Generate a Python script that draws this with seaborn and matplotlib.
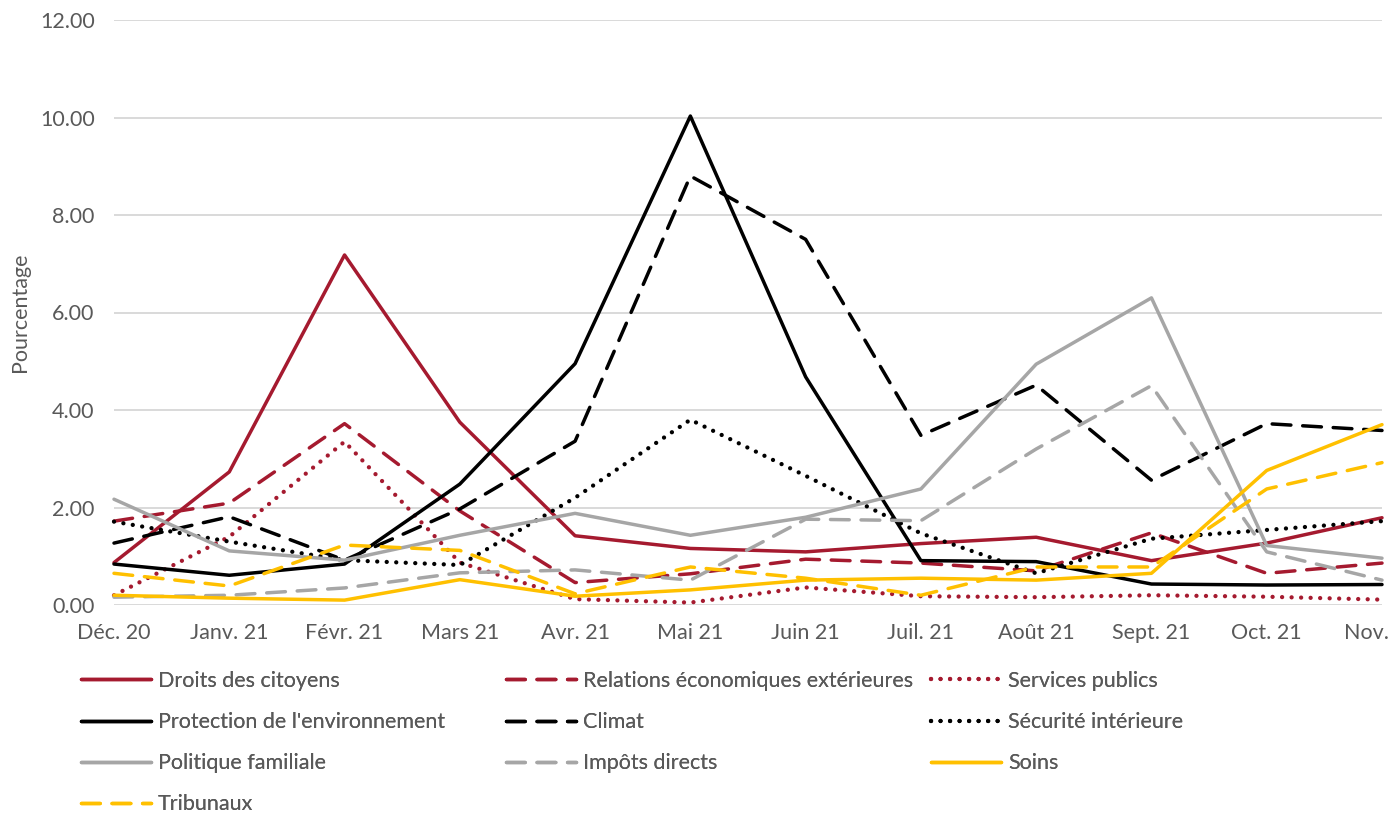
import matplotlib
matplotlib.use("Agg")
import matplotlib.pyplot as plt
import matplotlib.ticker as mticker
import seaborn as sns
import pandas as pd

months = ["Déc. 20", "Janv. 21", "Févr. 21", "Mars 21", "Avr. 21", "Mai 21",
          "Juin 21", "Juil. 21", "Août 21", "Sept. 21", "Oct. 21", "Nov. 21"]

droits_citoyens = [0.87, 2.73, 7.18, 3.75, 1.42, 1.16, 1.09, 1.26, 1.39, 0.91, 1.27, 1.79]
relations_eco = [1.72, 2.09, 3.72, 1.93, 0.46, 0.64, 0.94, 0.86, 0.70, 1.48, 0.65, 0.86]
services_publics = [0.20, 1.40, 3.35, 0.87, 0.12, 0.05, 0.36, 0.18, 0.16, 0.20, 0.17, 0.11]
protection_env = [0.84, 0.61, 0.84, 2.48, 4.95, 10.03, 4.68, 0.91, 0.89, 0.43, 0.41, 0.42]
climat = [1.27, 1.81, 0.92, 1.97, 3.36, 8.80, 7.50, 3.48, 4.51, 2.56, 3.72, 3.58]
securite_int = [1.71, 1.30, 0.92, 0.82, 2.20, 3.80, 2.65, 1.47, 0.65, 1.36, 1.54, 1.72]
politique_fam = [2.17, 1.11, 0.92, 1.43, 1.88, 1.43, 1.80, 2.38, 4.94, 6.30, 1.22, 0.96]
impots_directs = [0.16, 0.20, 0.35, 0.66, 0.72, 0.51, 1.76, 1.73, 3.20, 4.50, 1.09, 0.51]
soins = [0.20, 0.14, 0.10, 0.52, 0.18, 0.31, 0.51, 0.55, 0.51, 0.65, 2.76, 3.70]
tribunaux = [0.65, 0.39, 1.23, 1.12, 0.23, 0.78, 0.55, 0.20, 0.78, 0.78, 2.38, 2.92]

labels = ["Droits des citoyens", "Relations économiques extérieures", "Services publics",
          "Protection de l'environnement", "Climat", "Sécurité intérieure",
          "Politique familiale", "Impôts directs", "Soins", "Tribunaux"]
series = [droits_citoyens, relations_eco, services_publics, protection_env, climat,
          securite_int, politique_fam, impots_directs, soins, tribunaux]

RED, BLACK, GREY, GOLD = "#a51a2f", "#000000", "#a6a6a6", "#ffc000"
colors = [RED, RED, RED, BLACK, BLACK, BLACK, GREY, GREY, GOLD, GOLD]
DASH = (0, (5.4, 3.4))
DOT = (0, (0.01, 2.2))
styles = ["-", DASH, DOT, "-", DASH, DOT, "-", DASH, "-", DASH]
widths = [2.5, 2.5, 3.1, 2.5, 2.5, 3.1, 2.5, 2.5, 2.5, 2.5]

TEXT = "#595959"
FS = 15.5
sns.set_theme(style="white")
plt.rcParams["font.family"] = ["Lato", "DejaVu Sans"]
plt.rcParams["text.color"] = TEXT

fig = plt.figure(figsize=(13.94, 8.14), dpi=100)
ax = fig.add_axes([114 / 1394, 1 - 605 / 814, 1268 / 1394, 585 / 814])

handles = []
for lab, vals, col, ls, lw in zip(labels, series, colors, styles, widths):
    df = pd.DataFrame({"mois": months, "valeur": vals})
    sns.lineplot(data=df, x="mois", y="valeur", ax=ax, color=col, linestyle=ls,
                 linewidth=lw, dash_capstyle="round", label=lab, legend=False,
                 sort=False, clip_on=False)
    handles.append(ax.get_lines()[-1])

ax.set_xlim(0, 11)
ax.set_ylim(0, 12)
ax.set_yticks(range(0, 13, 2))
ax.yaxis.set_major_formatter(mticker.FormatStrFormatter("%.2f"))
ax.yaxis.grid(True, color="#d9d9d9", linewidth=1.4)
ax.xaxis.grid(False)
ax.set_axisbelow(True)
for s in ax.spines.values():
    s.set_visible(False)
ax.tick_params(axis="both", length=0, labelsize=FS, labelcolor=TEXT)
ax.tick_params(axis="y", pad=14)
ax.tick_params(axis="x", pad=13)
ax.set_xlabel("")
ax.set_ylabel("Pourcentage", fontsize=FS, color=TEXT)
ax.yaxis.set_label_coords(-84 / 1268, 0.5)

# three-column legend below the plot, filled row by row
col_x = [81, 506, 931]
for c in range(3):
    idx = list(range(c, len(labels), 3))
    leg = fig.legend([handles[i] for i in idx], [labels[i] for i in idx],
                     loc="upper left", bbox_to_anchor=(col_x[c] / 1394, 1 - 671 / 814),
                     frameon=False, fontsize=FS, handlelength=3.25, handletextpad=0.33,
                     borderpad=0, borderaxespad=0, labelspacing=0.98, labelcolor=TEXT)
    fig.add_artist(leg)

fig.savefig("out.png", dpi=100)
